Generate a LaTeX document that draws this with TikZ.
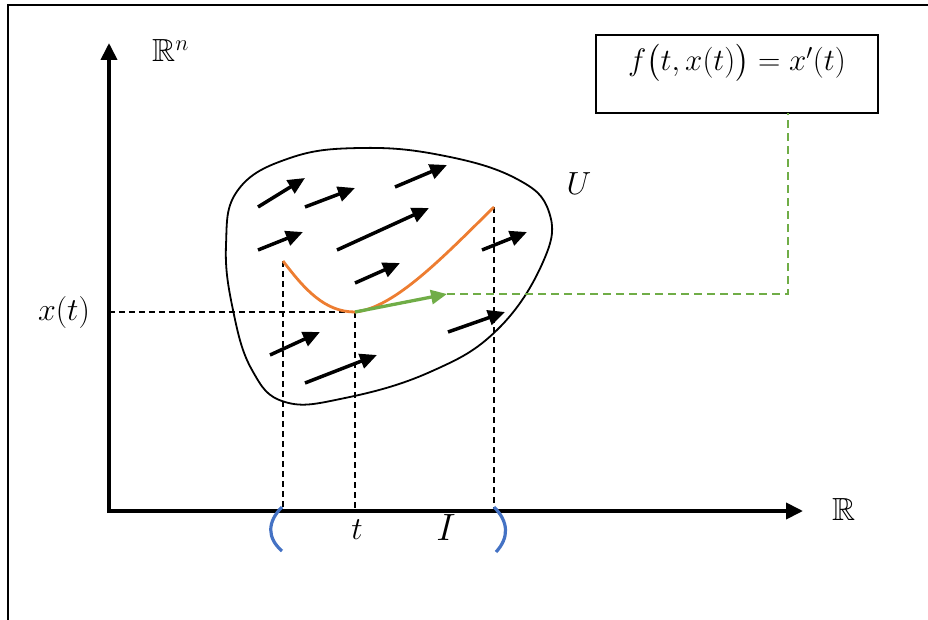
\documentclass[tikz,border=0pt]{standalone}
\usepackage{fix-cm}
\usepackage{amsmath}
\usepackage{amssymb}
\usetikzlibrary{arrows.meta}
\definecolor{orangec}{HTML}{ED7D31}
\definecolor{greenc}{HTML}{70AD47}
\definecolor{bluec}{HTML}{4472C4}
\begin{document}
\begin{tikzpicture}[x=1pt,y=-1pt,
  axis/.style={line width=3.8pt,-{Triangle[length=17pt,width=16pt]}},
  field/.style={line width=3.5pt,-{Triangle[length=17pt,width=15pt]}},
  guide/.style={dash pattern=on 6pt off 4pt, line width=1.4pt},
  gguide/.style={greenc, dash pattern=on 8pt off 5pt, line width=1.4pt},
  paren/.style={bluec, line width=3.2pt},
  lbl/.style={font=\fontsize{32}{38}\selectfont, inner sep=0pt}]
\useasboundingbox (0,0) rectangle (928,620);
\draw[line width=1.6pt] (8,620) -- (8,5) -- (928,5);

% key points
\coordinate (O) at (109,511);
\coordinate (ytip) at (109,43);
\coordinate (xtip) at (803,511);
\coordinate (a) at (283,261);
\coordinate (m) at (355,312);
\coordinate (b) at (494,207);
\coordinate (g) at (447,294);
\coordinate (xa) at (283,511);
\coordinate (xm) at (355,511);
\coordinate (xb) at (494,511);
\coordinate (ym) at (109,312);
\coordinate (boxfoot) at (788,113);

% region U
\draw[line width=1.8pt] plot[smooth cycle, tension=0.7] coordinates {
 (226,245) (238,190) (290,158) (360,148) (440,155) (515,178) (549,212)
 (543,262) (497,330) (430,372) (345,398) (285,402) (252,370) (233,310)};

% guides
\draw[guide] (a) -- (xa);
\draw[guide] (m) -- (xm);
\draw[guide] (b) -- (xb);
\draw[guide] (ym) -- (m);

% axes
\draw[axis] (109,513) -- (ytip);
\draw[axis] (107,511) -- (xtip);

% field arrows
\draw[field] (258,207) -- (305,178);
\draw[field] (305,207) -- (355,188);
\draw[field] (395,187) -- (447,165);
\draw[field] (258,250) -- (303,232);
\draw[field] (337,250) -- (429,208);
\draw[field] (355,283) -- (400,263);
\draw[field] (482,250) -- (527,232);
\draw[field] (448,332) -- (505,312);
\draw[field] (270,355) -- (320,332);
\draw[field] (305,383) -- (377,355);

% solution curve
\draw[orangec, line width=2.8pt] (a) .. controls (305,290) and (325,312) .. (m)
  .. controls (395,308) and (445,255) .. (b);

% tangent vector
\draw[greenc, line width=3.3pt, -{Triangle[length=16pt,width=14pt]}] (m) -- (g);

% formula box
\node[draw, line width=1.6pt, minimum width=282pt, minimum height=78pt, inner sep=0pt] (box) at (737,74) {};
\node[font=\fontsize{31}{36}\selectfont, inner sep=0pt, anchor=base] (formula) at (737,71) {$f\bigl(t,x(t)\bigr)=x'(t)$};
\draw[gguide] (g) -| (boxfoot);

% interval parentheses
\draw[paren] (282,507) .. controls (267,522) and (267,538) .. (282,551);
\draw[paren] (494,507) .. controls (509,522) and (509,538) .. (496,552);

% labels
\node[lbl, anchor=base west] (Rn) at (152,62) {$\mathbb{R}^n$};
\node[lbl, anchor=base west] (R) at (832,520) {$\mathbb{R}$};
\node[lbl, anchor=base] (xt) at (64,320) {$x(t)$};
\node[lbl, anchor=base] (tl) at (357,539) {$t$};
\node[font=\fontsize{38}{44}\selectfont, inner sep=0pt, anchor=base] (Il) at (446,540) {$I$};
\node[lbl, anchor=base] (Ul) at (579,195) {$U$};
\end{tikzpicture}
\end{document}
